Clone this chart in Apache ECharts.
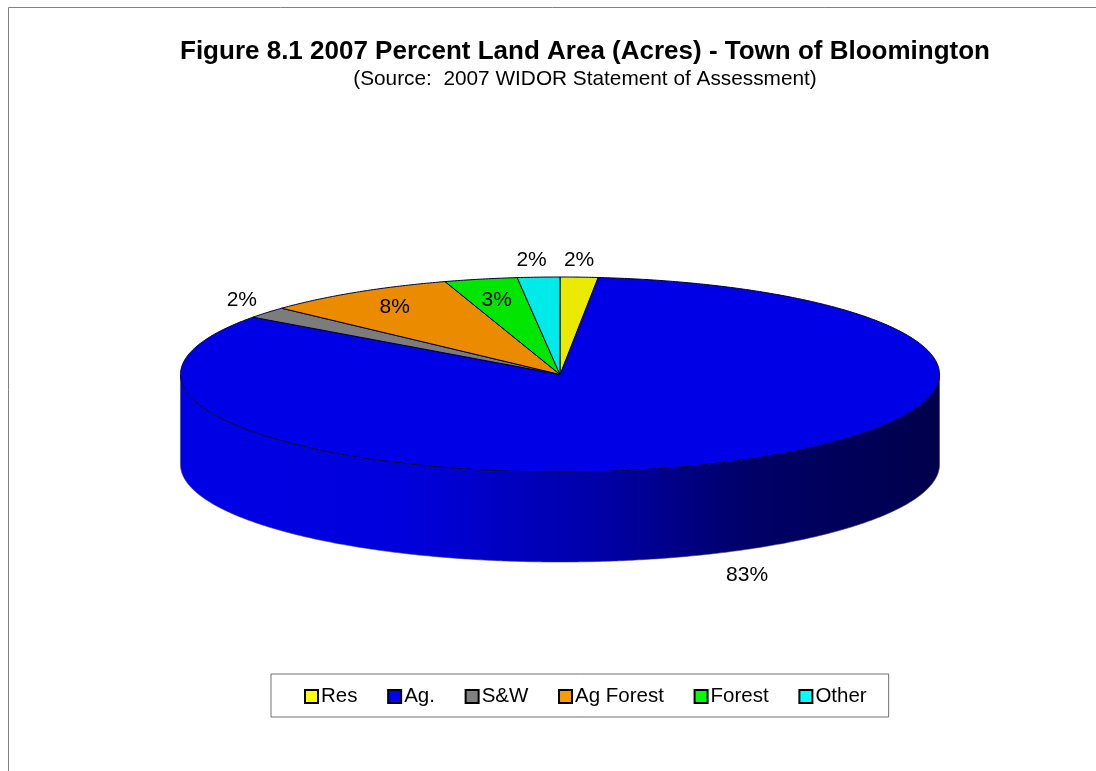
<!DOCTYPE html>
<html>
<head>
<meta charset="utf-8">
<style>html,body{margin:0;padding:0;background:#fff;overflow:hidden}#c{width:1096px;height:771px}</style>
<script src="https://cdn.jsdelivr.net/npm/echarts@6/dist/echarts.min.js"></script>
</head>
<body>
<div id="c"></div>
<script>
var categories = ['Res', 'Ag.', 'S&W', 'Ag Forest', 'Forest', 'Other'];
var values = [1.6, 83.4, 1.9, 8.2, 3.1, 1.8];
var faceColors = ['#EAEA00', '#0000E6', '#7C7C7C', '#EB8C00', '#00E600', '#00EAEA'];
var legendColors = ['#FFFF00', '#0000FF', '#808080', '#FF9900', '#00FF00', '#00FFFF'];
var labelOffsets = [[0, -17], [32, 112], [-25, -12], [38, 15], [16, 21], [-7, -17]];

var FONT = '"Liberation Sans", Arial, sans-serif';
var CX = 560, CY = 374.5, RX = 379.5, RY = 97.5, DEPTH = 90;
var total = values.reduce(function (a, b) { return a + b; }, 0);

function rimPoint(deg, dy) {
  var t = deg * Math.PI / 180;
  return [CX + RX * Math.sin(t), CY - RY * Math.cos(t) + (dy || 0)];
}
function arcPoints(a0, a1, dy) {
  var pts = [], n = Math.max(2, Math.ceil((a1 - a0) * 2));
  for (var i = 0; i <= n; i++) pts.push(rimPoint(a0 + (a1 - a0) * i / n, dy));
  return pts;
}
function sliceRange(idx) {
  var before = 0;
  for (var i = 0; i < idx; i++) before += values[i];
  return [before / total * 360, (before + values[idx]) / total * 360];
}
var wallGradient = {
  type: 'linear', x: 0, y: 0, x2: 1, y2: 0,
  colorStops: [
    { offset: 0, color: '#0000E6' },
    { offset: 0.3, color: '#0000DC' },
    { offset: 0.55, color: '#0000A8' },
    { offset: 0.75, color: '#000068' },
    { offset: 1, color: '#00004C' }
  ]
};

function makeRender(idx) {
  return function (params, api) {
    var r = sliceRange(idx), a0 = r[0], a1 = r[1];
    var children = [];
    // side wall: the part of this slice's rim on the front half of the disc
    var w0 = Math.max(a0, 90), w1 = Math.min(a1, 270);
    if (w1 > w0) {
      var topEdge = arcPoints(w0, w1, 0);
      var bottomEdge = arcPoints(w0, w1, DEPTH).reverse();
      children.push({
        type: 'polygon',
        shape: { points: topEdge.concat(bottomEdge) },
        style: { fill: wallGradient, stroke: '#3A3A70', lineWidth: 0.6 }
      });
    }
    // top face
    children.push({
      type: 'polygon',
      shape: { points: [[CX, CY]].concat(arcPoints(a0, a1, 0)) },
      style: { fill: faceColors[idx], stroke: '#000030', lineWidth: 1 }
    });
    // percent label
    var mid = rimPoint((a0 + a1) / 2, 0), off = labelOffsets[idx];
    children.push({
      type: 'text',
      z2: 10,
      style: {
        x: mid[0] + off[0], y: mid[1] + off[1],
        text: Math.round(api.value(0)) + '%',
        fill: '#000', font: '21px ' + FONT, align: 'center', verticalAlign: 'middle'
      }
    });
    return { type: 'group', children: children };
  };
}

var series = categories.map(function (name, i) {
  return {
    type: 'custom',
    name: name,
    coordinateSystem: 'none',
    data: [[values[i]]],
    color: legendColors[i],
    renderItem: makeRender(i),
    silent: true,
    z: i === 1 ? 1 : 2
  };
});

var chart = echarts.init(document.getElementById('c'), null, { renderer: 'canvas' });
chart.setOption({
  animation: false,
  backgroundColor: '#fff',
  title: {
    text: 'Figure 8.1 2007 Percent Land Area (Acres) - Town of Bloomington',
    subtext: '(Source:  2007 WIDOR Statement of Assessment)',
    left: 585, top: 39, textAlign: 'center', padding: 0, itemGap: 4,
    textStyle: { fontFamily: FONT, fontWeight: 'bold', fontSize: 26, color: '#000' },
    subtextStyle: { fontFamily: FONT, fontSize: 20.8, color: '#000' }
  },
  legend: {
    left: 271, top: 674,
    orient: 'horizontal',
    padding: [12, 22, 10, 33],
    itemGap: 29.7, itemWidth: 13, itemHeight: 13,
    icon: 'rect',
    selectedMode: false,
    borderColor: '#707070', borderWidth: 1, borderRadius: 0,
    textStyle: { fontFamily: FONT, fontSize: 20.5, color: '#000', padding: [4, 0, 0, -2] },
    data: categories.map(function (name, i) {
      return { name: name, itemStyle: { color: legendColors[i], borderColor: '#000', borderWidth: 2 } };
    })
  },
  graphic: [{
    type: 'polyline',
    silent: true,
    shape: { points: [[8.5, 771], [8.5, 7.5], [1096, 7.5]] },
    style: { stroke: '#808080', lineWidth: 1, fill: null }
  }],
  series: series
});
</script>
</body>
</html>
